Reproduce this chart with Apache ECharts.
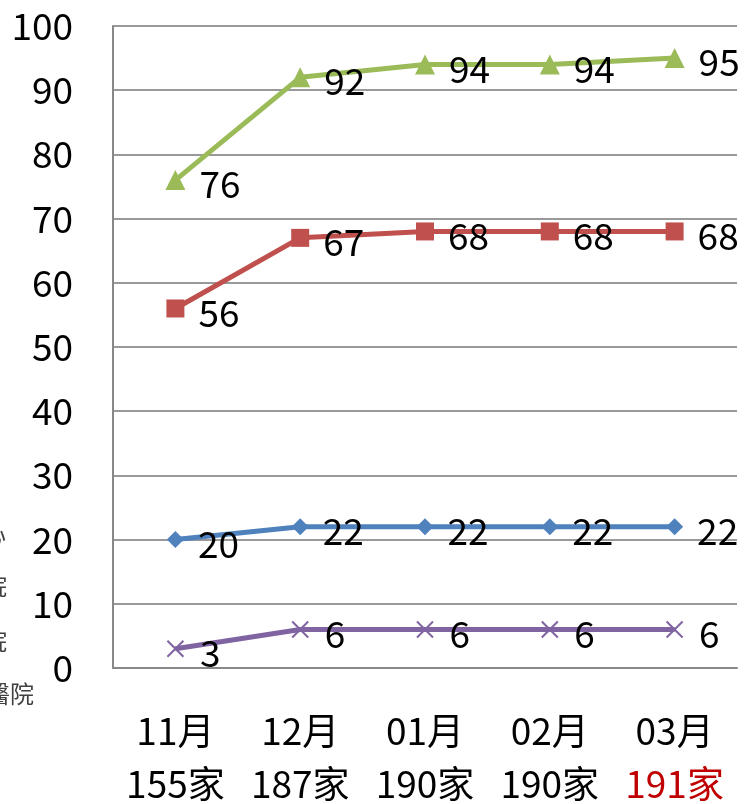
<!DOCTYPE html>
<html>
<head>
<meta charset="utf-8">
<script src="https://cdn.jsdelivr.net/npm/echarts@6/dist/echarts.min.js"></script>
<style>
  html, body { margin: 0; padding: 0; background: #fff; }
  #chart { width: 744px; height: 804px; }
</style>
</head>
<body>
<div id="chart"></div>
<script>
// Monthly counts per hospital tier
const months = ['11月', '12月', '01月', '02月', '03月'];
const totals = ['155家', '187家', '190家', '190家', '191家'];
const yTicks = [0, 10, 20, 30, 40, 50, 60, 70, 80, 90, 100];

const greenSeries = [76, 92, 94, 94, 95];
const redSeries = [56, 67, 68, 68, 68];
const blueSeries = [20, 22, 22, 22, 22];
const purpleSeries = [3, 6, 6, 6, 6];

const legendNames = ['醫學中心', '區域醫院', '地區醫院', '基層醫院'];

const FONT = '"Noto Sans CJK TC", "Noto Sans", sans-serif';
const BIG = 37;

const chart = echarts.init(document.getElementById('chart'));

function lineSeries(name, data, color, symbol, symbolSize, extra) {
  return Object.assign({
    name: name,
    type: 'line',
    data: data,
    symbol: symbol,
    symbolSize: symbolSize,
    lineStyle: { color: color, width: 5 },
    itemStyle: { color: color },
    z: 3,
    label: {
      show: true,
      position: 'right',
      distance: 14,
      offset: [0, 4],
      color: '#000',
      fontSize: BIG,
      fontFamily: FONT
    },
    animation: false
  }, extra || {});
}

chart.setOption({
  animation: false,
  grid: { left: 113, right: 7, top: 26, bottom: 136 },
  xAxis: {
    type: 'category',
    data: months,
    boundaryGap: true,
    axisLine: { lineStyle: { color: '#888', width: 2 } },
    axisTick: { show: false },
    axisLabel: {
      margin: 36,
      interval: 0,
      formatter: function (value, idx) {
        const style = idx === months.length - 1 ? 'r' : 'n';
        return '{m|' + value + '}\n{' + style + '|' + totals[idx] + '}';
      },
      rich: {
        m: { fontSize: BIG, fontFamily: FONT, color: '#000', lineHeight: 53 },
        n: { fontSize: BIG, fontFamily: FONT, color: '#000', lineHeight: 53 },
        r: { fontSize: BIG, fontFamily: FONT, color: '#c00000', lineHeight: 53 }
      }
    }
  },
  yAxis: {
    type: 'value',
    min: yTicks[0],
    max: yTicks[yTicks.length - 1],
    interval: yTicks[1] - yTicks[0],
    axisLine: { show: true, lineStyle: { color: '#888', width: 2 } },
    axisTick: { show: false },
    splitLine: { lineStyle: { color: '#999', width: 2 } },
    axisLabel: {
      margin: 40,
      color: '#000',
      fontSize: BIG,
      fontFamily: FONT
    }
  },
  graphic: [
    { type: 'text', left: -90, top: 522, style: { text: legendNames[0], fontSize: 24, fontFamily: FONT, fill: '#404040' } },
    { type: 'text', left: -89, top: 574, style: { text: legendNames[1], fontSize: 24, fontFamily: FONT, fill: '#404040' } },
    { type: 'text', left: -89, top: 629, style: { text: legendNames[2], fontSize: 24, fontFamily: FONT, fill: '#404040' } },
    { type: 'text', left: -62, top: 682, style: { text: legendNames[3], fontSize: 24, fontFamily: FONT, fill: '#404040' } }
  ],
  series: [
    lineSeries(legendNames[0], greenSeries, '#9bbb59', 'triangle', 20),
    lineSeries(legendNames[1], redSeries, '#c0504d', 'rect', 18),
    lineSeries(legendNames[2], blueSeries, '#4f81bd', 'diamond', 17),
    lineSeries(legendNames[3], purpleSeries, '#8064a2', 'path://M0,0L10,10M10,0L0,10', 16, {
      itemStyle: { color: 'none', borderColor: '#8064a2', borderWidth: 2 }
    })
  ]
});
</script>
</body>
</html>
